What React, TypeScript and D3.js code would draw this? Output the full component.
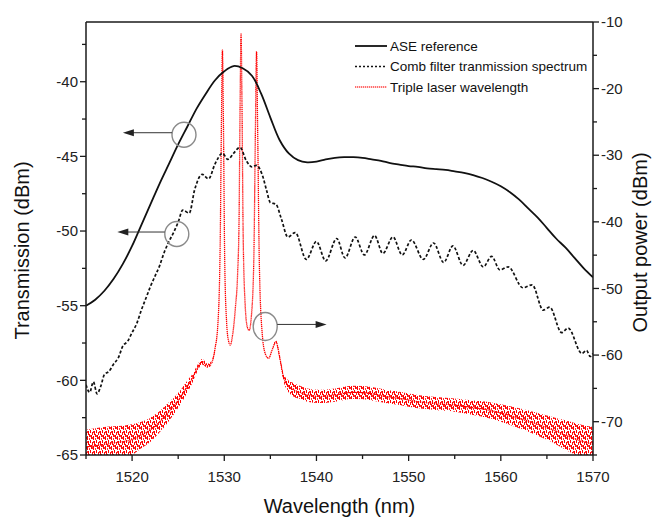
import React from 'react';
import * as d3 from 'd3';

// ---------- data ----------
const X_TICKS = [1520, 1530, 1540, 1550, 1560, 1570];
const X_MINOR = [1515, 1525, 1535, 1545, 1555, 1565];
const LEFT_TICKS = [-65, -60, -55, -50, -45, -40];
const LEFT_MINOR = [-62.5, -57.5, -52.5, -47.5, -42.5, -37.5];
const RIGHT_TICKS = [-70, -60, -50, -40, -30, -20, -10];
const RIGHT_MINOR = [-75, -65, -55, -45, -35, -25, -15];
const SERIES = ['ASE reference', 'Comb filter tranmission spectrum', 'Triple laser wavelength'];

// ASE reference: [wavelength nm, transmission dBm] (left axis)
const ASE: [number, number][] = [
  [1515, -55.0], [1516, -54.6], [1517, -54.0], [1518, -53.2], [1519, -52.2], [1520, -51.0],
  [1521, -49.6], [1522, -48.2], [1523, -46.8], [1524, -45.5], [1525, -44.2], [1526, -43.0],
  [1527, -41.8], [1528, -40.8], [1529, -39.9], [1530, -39.3], [1531, -38.95], [1532, -39.1],
  [1533, -39.6], [1534, -40.8], [1535, -42.4], [1536, -43.9], [1537, -44.8], [1538, -45.25],
  [1539, -45.4], [1540, -45.35], [1541, -45.2], [1542, -45.1], [1543, -45.05], [1544, -45.05],
  [1545, -45.1], [1546, -45.2], [1547, -45.3], [1548, -45.45], [1549, -45.55], [1550, -45.65],
  [1551, -45.7], [1552, -45.8], [1553, -45.85], [1554, -45.9], [1555, -46.0], [1556, -46.1],
  [1557, -46.25], [1558, -46.45], [1559, -46.7], [1560, -47.0], [1561, -47.4], [1562, -47.9],
  [1563, -48.5], [1564, -49.1], [1565, -49.8], [1566, -50.5], [1567, -51.1], [1568, -51.8],
  [1569, -52.5], [1570, -53.1],
];

// Comb filter transmission spectrum: [wavelength nm, transmission dBm] (left axis)
const COMB: [number, number][] = [
  [1515, -60.3], [1515.4, -60.8], [1515.8, -60.1], [1516.2, -60.9], [1516.6, -60.4], [1517.0, -59.6],
  [1517.5, -59.4], [1518.0, -58.9], [1518.5, -58.5], [1519.0, -57.7], [1519.5, -57.4], [1520.0, -56.8],
  [1520.5, -56.2], [1521, -55.3], [1521.5, -54.5], [1522, -53.7], [1522.5, -53.0], [1523, -52.3],
  [1523.5, -51.4], [1524, -50.7], [1524.5, -50.1], [1525, -49.4], [1525.5, -48.6], [1526.2, -48.8],
  [1526.8, -47.2], [1527.6, -46.2], [1528.3, -46.5], [1529, -45.5], [1529.8, -44.8], [1530.4, -45.2],
  [1531.0, -44.8], [1531.7, -44.4], [1532.4, -45.3], [1533.0, -45.7], [1533.5, -45.6], [1534.1, -46.2],
  [1534.6, -47.3], [1535.0, -48.1], [1535.6, -48.2], [1536.2, -49.2], [1536.9, -50.4], [1537.7, -50.1],
  [1538.9, -51.9], [1540.0, -50.7], [1541.0, -52.0], [1542.2, -50.5], [1543.1, -51.8], [1544.2, -50.4],
  [1545.2, -51.6], [1546.3, -50.3], [1547.2, -51.5], [1548.3, -50.4], [1549.3, -51.6], [1550.3, -50.6],
  [1551.6, -51.9], [1552.7, -50.8], [1553.8, -52.1], [1554.8, -51.0], [1555.9, -52.3], [1557.0, -51.3],
  [1558.1, -52.4], [1559.0, -51.7], [1559.9, -52.6], [1560.8, -52.4], [1562.4, -53.8], [1563.4, -53.6],
  [1564.6, -55.3], [1565.3, -55.1], [1566.6, -56.8], [1567.3, -56.5], [1568.8, -58.2], [1569.3, -58.0],
  [1569.7, -58.4], [1570, -58.2],
];

// Triple laser wavelength: [wavelength nm, output power dBm, noise half-width dB] (right axis)
const LASER: [number, number, number][] = [
  [1515, -73.8, 2.6], [1516, -73.6, 2.6], [1517, -73.4, 2.6], [1518, -73.2, 2.5], [1519, -73.0, 2.4],
  [1520, -72.7, 2.3], [1521, -72.0, 2.0], [1522, -71.2, 1.8], [1523, -70.0, 1.6], [1524, -68.5, 1.4],
  [1525, -66.8, 1.1], [1526, -64.7, 0.9], [1526.5, -63.6, 0.7], [1527, -62.2, 0.5], [1527.6, -61.0, 0.4],
  [1528.2, -61.6, 0.3], [1528.6, -61.2, 0.3], [1529.0, -59.0, 0.2], [1529.3, -55.5, 0.1], [1529.55, -44, 0],
  [1529.7, -24, 0], [1529.8, -14.2, 0], [1529.9, -24, 0], [1530.05, -46, 0], [1530.25, -55, 0],
  [1530.45, -57.8, 0], [1530.65, -58.5, 0], [1530.9, -57.0, 0], [1531.2, -53.0, 0], [1531.45, -47.7, 0],
  [1531.6, -40, 0], [1531.72, -22, 0], [1531.82, -11.8, 0], [1531.92, -22, 0], [1532.05, -42, 0],
  [1532.25, -52, 0], [1532.5, -55.8, 0], [1532.7, -56.3, 0], [1532.95, -54.0, 0], [1533.2, -46, 0],
  [1533.38, -26, 0], [1533.5, -14.4, 0], [1533.62, -26, 0], [1533.8, -46, 0], [1534.1, -56.5, 0],
  [1534.45, -59.8, 0], [1534.8, -60.5, 0], [1535.2, -59.2, 0.1], [1535.6, -58.0, 0.2], [1536.0, -60.2, 0.4],
  [1536.4, -63.2, 0.6], [1536.8, -64.4, 0.8], [1537.5, -65.2, 1.0], [1538.2, -65.6, 1.0], [1539, -66.0, 1.0],
  [1540.3, -66.2, 1.0], [1542, -66.0, 1.0], [1544, -65.6, 1.0], [1546, -65.8, 1.0], [1547.5, -66.2, 1.0],
  [1549, -66.5, 1.0], [1551, -67.0, 1.0], [1553, -67.3, 1.0], [1555, -67.5, 1.0], [1557, -67.9, 1.1],
  [1558.5, -68.2, 1.2], [1560, -68.7, 1.3], [1562, -69.5, 1.5], [1564, -70.4, 1.7], [1565.6, -71.2, 1.9],
  [1567, -72.0, 2.2], [1568.5, -72.8, 2.4], [1570, -73.4, 2.6],
];

// Annotation circles: [wavelength, value, axis, arrow tip wavelength]
const NOTES: [number, number, 'L' | 'R', number][] = [
  [1525.63, -43.55, 'L', 1519.0],
  [1524.85, -50.2, 'L', 1518.4],
  [1534.44, -55.7, 'R', 1541.1],
];

const W = 653;
const H = 517;
const M = { left: 86, right: 593, top: 22, bottom: 455 };
const FONT = "'Liberation Sans', Arial, Helvetica, sans-serif";

export default function App() {
  const x = d3.scaleLinear().domain([1515, 1570]).range([M.left, M.right]);
  const yL = d3.scaleLinear().domain([-65, -36]).range([M.bottom, M.top]);
  const yR = d3.scaleLinear().domain([-75, -10]).range([M.bottom, M.top]);

  const aseLine = d3.line<[number, number]>().x(d => x(d[0])).y(d => yL(d[1])).curve(d3.curveCatmullRom.alpha(0.5));
  const combLine = d3.line<[number, number]>().x(d => x(d[0])).y(d => yL(d[1])).curve(d3.curveMonotoneX);
  const laserLine = d3.line<[number, number, number]>().x(d => x(d[0])).y(d => yR(d[1])).curve(d3.curveMonotoneX);
  const laserBand = d3.area<[number, number, number]>()
    .x(d => x(d[0]))
    .y0(d => yR(d[1] - d[2]))
    .y1(d => yR(d[1] + d[2]))
    .curve(d3.curveMonotoneX);

  const axisColor = '#1a1a1a';
  const tickFs = 15;

  return (
    <svg width={W} height={H} style={{ position: 'absolute', left: 0, top: 0, background: '#fff' }} fontFamily={FONT}>
      <defs>
        <clipPath id="plot">
          <rect x={M.left} y={M.top} width={M.right - M.left} height={M.bottom - M.top} />
        </clipPath>
        <clipPath id="legendClip">
          <rect x={0} y={0} width={M.right + 2} height={120} />
        </clipPath>
        <pattern id="noise" width="6" height="10" patternUnits="userSpaceOnUse">
          <rect x="0" y="0" width="1" height="3" fill="#ff0000" />
          <rect x="1" y="5" width="1" height="4" fill="#ff0000" />
          <rect x="2" y="2" width="1" height="3" fill="#ff1010" />
          <rect x="3" y="6" width="1" height="4" fill="#ff0000" />
          <rect x="4" y="1" width="1" height="4" fill="#ff0000" />
          <rect x="5" y="4" width="1" height="3" fill="#ff1010" />
          <rect x="0" y="5" width="1" height="2" fill="#ff3030" />
          <rect x="3" y="1" width="1" height="2" fill="#ff3030" />
          <rect x="5" y="8" width="1" height="2" fill="#ff3030" />
          <rect x="2" y="7" width="1" height="2" fill="#ff3030" />
        </pattern>
      </defs>

      <g clipPath="url(#plot)">
        <path d={laserBand(LASER) || ''} fill="url(#noise)" />
        <path d={laserLine(LASER) || ''} fill="none" stroke="#ff0000" strokeWidth={1.3} strokeDasharray="1.3,0.7" />
        <path d={aseLine(ASE) || ''} fill="none" stroke="#111" strokeWidth={1.8} />
        <path d={combLine(COMB) || ''} fill="none" stroke="#111" strokeWidth={1.7} strokeDasharray="3,2" />
      </g>

      {/* frame */}
      <line x1={M.left} x2={M.right} y1={M.top} y2={M.top} stroke={axisColor} strokeWidth={1.5} />
      <line x1={M.left} x2={M.right} y1={M.bottom} y2={M.bottom} stroke={axisColor} strokeWidth={1.5} />
      <line x1={M.left} x2={M.left} y1={M.top} y2={M.bottom} stroke={axisColor} strokeWidth={1.5} />
      <line x1={M.right} x2={M.right} y1={M.top} y2={M.bottom} stroke={axisColor} strokeWidth={1.5} />

      {/* bottom axis */}
      {X_TICKS.map(t => (
        <g key={'xt' + t}>
          <line x1={x(t)} x2={x(t)} y1={M.bottom} y2={M.bottom + 6} stroke={axisColor} strokeWidth={1.3} />
          <text x={x(t)} y={M.bottom + 27} textAnchor="middle" fontSize={tickFs} fill="#222">{t}</text>
        </g>
      ))}
      {X_MINOR.map(t => (
        <line key={'xm' + t} x1={x(t)} x2={x(t)} y1={M.bottom} y2={M.bottom + 4} stroke={axisColor} strokeWidth={1.3} />
      ))}

      {/* left axis */}
      {LEFT_TICKS.map(t => (
        <g key={'lt' + t}>
          <line x1={M.left - 6} x2={M.left} y1={yL(t)} y2={yL(t)} stroke={axisColor} strokeWidth={1.3} />
          <text x={M.left - 8} y={yL(t)} dy="0.35em" textAnchor="end" fontSize={tickFs} fill="#222">{t}</text>
        </g>
      ))}
      {LEFT_MINOR.map(t => (
        <line key={'lm' + t} x1={M.left - 4} x2={M.left} y1={yL(t)} y2={yL(t)} stroke={axisColor} strokeWidth={1.3} />
      ))}

      {/* right axis */}
      {RIGHT_TICKS.map(t => (
        <g key={'rt' + t}>
          <line x1={M.right} x2={M.right + 6} y1={yR(t)} y2={yR(t)} stroke={axisColor} strokeWidth={1.3} />
          <text x={M.right + 8} y={yR(t)} dy="0.35em" textAnchor="start" fontSize={tickFs} fill="#222">{t}</text>
        </g>
      ))}
      {RIGHT_MINOR.map(t => (
        <line key={'rm' + t} x1={M.right} x2={M.right + 4} y1={yR(t)} y2={yR(t)} stroke={axisColor} strokeWidth={1.3} />
      ))}

      {/* axis titles */}
      <text transform={`translate(22,${(M.top + M.bottom) / 2 + 12}) rotate(-90)`} textAnchor="middle" dy="0.35em" fontSize={20} fill="#111">Transmission (dBm)</text>
      <text transform={`translate(640,${(M.top + M.bottom) / 2 + 4}) rotate(-90)`} textAnchor="middle" dy="0.35em" fontSize={20} fill="#111">Output power (dBm)</text>
      <text x={(M.left + M.right) / 2} y={513} textAnchor="middle" fontSize={20} fill="#111">Wavelength (nm)</text>

      {/* legend */}
      <g clipPath="url(#legendClip)">
        {SERIES.map((s, i) => {
          const ly = 46 + i * 20.5;
          return (
            <g key={s}>
              <line x1={355} x2={387} y1={ly} y2={ly}
                stroke={i === 2 ? '#ff4040' : '#111'}
                strokeWidth={i === 0 ? 1.8 : 1.5}
                strokeDasharray={i === 0 ? undefined : i === 1 ? '2,2' : '1.3,0.7'} />
              <text x={390} y={ly} dy="0.35em" fontSize={13.5} fill="#111">{s}</text>
            </g>
          );
        })}
      </g>

      {/* annotations */}
      {NOTES.map((n, i) => {
        const cx = x(n[0]);
        const cy = n[2] === 'L' ? yL(n[1]) : yR(n[1]);
        const rx = 12;
        const ry = n[2] === 'L' ? 12.5 : 14;
        const tip = x(n[3]);
        const dir = tip < cx ? -1 : 1;
        const start = cx + dir * rx;
        const ay = cy - 2;
        return (
          <g key={'n' + i}>
            <ellipse cx={cx} cy={cy} rx={rx} ry={ry} fill="none" stroke="#8a8a8a" strokeWidth={1.4} />
            <line x1={start} x2={tip - dir * 8} y1={ay} y2={ay} stroke="#333" strokeWidth={1} />
            <path d={`M${tip},${ay} L${tip - dir * 11},${ay - 3.5} L${tip - dir * 11},${ay + 3.5} Z`} fill="#222" />
          </g>
        );
      })}
    </svg>
  );
}
